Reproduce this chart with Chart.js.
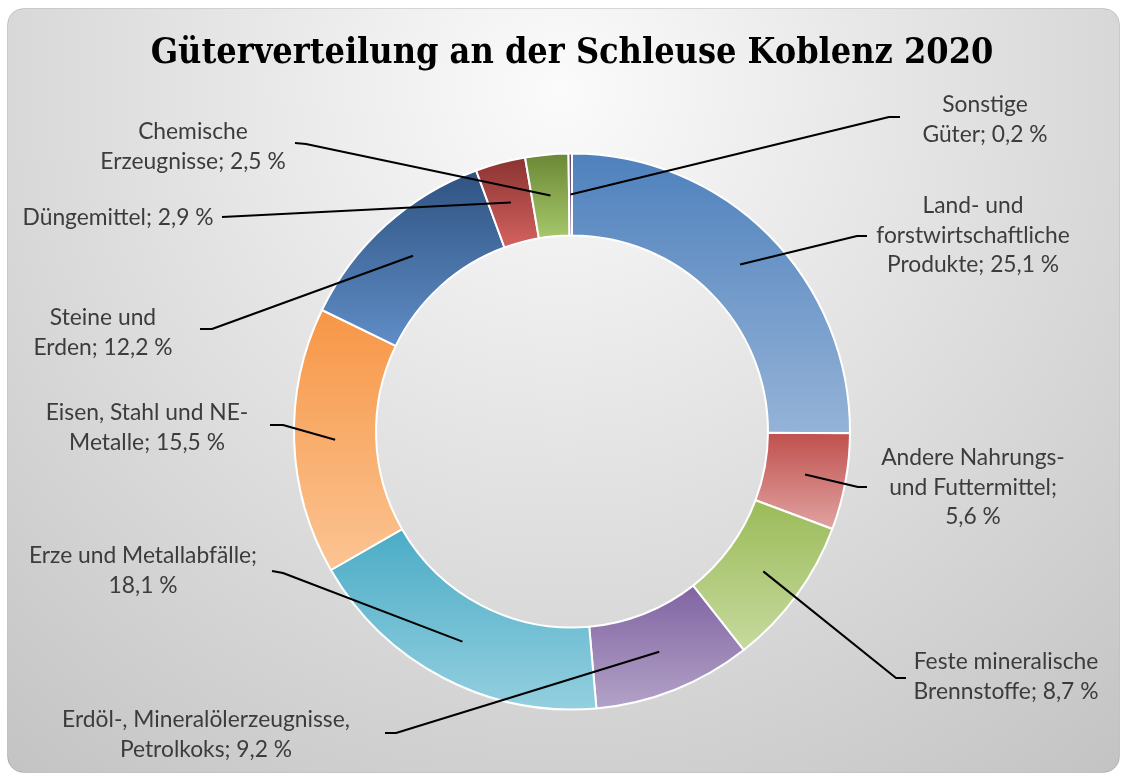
<!DOCTYPE html>
<html lang="de">
<head>
<meta charset="utf-8">
<title>Güterverteilung an der Schleuse Koblenz 2020</title>
<script src="https://cdn.jsdelivr.net/npm/chart.js@4.4.1/dist/chart.umd.min.js"></script>
<style>
  html, body { margin: 0; padding: 0; background: #fff; }
  #wrap { width: 1123px; height: 776px; }
</style>
</head>
<body>
<div id="wrap"><canvas id="chart" width="1123" height="776"></canvas></div>
<script>
(() => {
  // Daten
  const TITLE = 'Güterverteilung an der Schleuse Koblenz 2020';
  const categories = [
    'Land- und forstwirtschaftliche Produkte',
    'Andere Nahrungs- und Futtermittel',
    'Feste mineralische Brennstoffe',
    'Erdöl-, Mineralölerzeugnisse, Petrolkoks',
    'Erze und Metallabfälle',
    'Eisen, Stahl und NE-Metalle',
    'Steine und Erden',
    'Düngemittel',
    'Chemische Erzeugnisse',
    'Sonstige Güter'
  ];
  const shares = [25.1, 5.6, 8.7, 9.2, 18.1, 15.5, 12.2, 2.9, 2.5, 0.2];

  // Farben (oben dunkel -> unten hell, wie im Office-Verlauf)
  const topColors    = ['#4f81bd', '#c0504d', '#9bbb59', '#8064a2', '#4bacc6', '#f79646', '#2f5382', '#8a3331', '#6b8836', '#5f497a'];
  const bottomColors = ['#95b3d7', '#e0a3a1', '#c6da9e', '#b3a2c7', '#93cfdf', '#fbc493', '#5f8dc6', '#d4625f', '#a6c76a', '#8c76a8'];

  // Beschriftungen: Textmitte (x, y der ersten Zeile), Umbruchbreite, Knick und Ende der Führungslinie
  const labelPos = [
    { x: 973,  y: 206, w: 210, kx: 857, ky: 236, ex: 867, ey: 236 },
    { x: 973,  y: 458, w: 200, kx: 858, ky: 487, ex: 867, ey: 487 },
    { x: 1006, y: 662, w: 205, kx: 896, ky: 678, ex: 906, ey: 678 },
    { x: 206,  y: 720, w: 310, kx: 396, ky: 733, ex: 385, ey: 733 },
    { x: 143,  y: 556, w: 255, kx: 283, ky: 573, ex: 272, ey: 571 },
    { x: 147,  y: 413, w: 225, kx: 283, ky: 425, ex: 270, ey: 425 },
    { x: 103,  y: 318, w: 152, kx: 212, ky: 329, ex: 200, ey: 329 },
    { x: 118,  y: 218, w: 230, kx: null, ky: null, ex: 222, ey: 217 },
    { x: 193,  y: 132, w: 200, kx: 306, ky: 144, ex: 295, ey: 143 },
    { x: 985,  y: 105, w: 137, kx: 889, ky: 117, ex: 900, ey: 117 }
  ];
  const LINE_H = 29.5;
  const CUTOUT = 0.705;

  const fmt = v => v.toFixed(1).replace('.', ',') + '\u00a0%';
  const labelText = i => categories[i] + '; ' + fmt(shares[i]);

  // Schriftgrößen an die Breiten im Original anpassen
  const TITLE_FONT = '"DejaVu Serif Condensed", "DejaVu Serif", "Liberation Serif", serif';
  const m = document.createElement('canvas').getContext('2d');
  m.font = 'bold 40px ' + TITLE_FONT;
  const titleSize = 40 * 843 / m.measureText(TITLE).width;
  m.font = '22px Lato';
  const labelSize = 22 * 191 / m.measureText(labelText(7)).width;

  function wrap(ctx, text, maxW) {
    const tokens = text.split(/(?<=[ -])/);
    const lines = [];
    let line = '';
    tokens.forEach(t => {
      const test = line + t;
      if (ctx.measureText(test.trim()).width > maxW && line.trim()) {
        lines.push(line.trim());
        line = t;
      } else {
        line = test;
      }
    });
    if (line.trim()) lines.push(line.trim());
    return lines;
  }

  // Verlauf je Segment über dessen eigene Höhe
  function sliceFill(c) {
    const i = c.dataIndex;
    const area = c.chart.chartArea;
    if (i === undefined || !area) return topColors[i || 0];
    const total = shares.reduce((a, b) => a + b, 0);
    let before = 0;
    for (let k = 0; k < i; k++) before += shares[k];
    const a0 = before / total * Math.PI * 2 - Math.PI / 2;
    const a1 = (before + shares[i]) / total * Math.PI * 2 - Math.PI / 2;
    const cy = (area.top + area.bottom) / 2;
    const R = (Math.min(area.width, area.height) - 2) / 2;
    let y0 = Infinity, y1 = -Infinity;
    for (let s = 0; s <= 32; s++) {
      const a = a0 + (a1 - a0) * s / 32;
      [R * CUTOUT, R].forEach(r => {
        const y = cy + r * Math.sin(a);
        y0 = Math.min(y0, y); y1 = Math.max(y1, y);
      });
    }
    if (y1 - y0 < 1) y1 = y0 + 1;
    const g = c.chart.ctx.createLinearGradient(0, y0, 0, y1);
    g.addColorStop(0, topColors[i]);
    g.addColorStop(1, bottomColors[i]);
    return g;
  }

  function roundRect(ctx, x, y, w, h, r) {
    ctx.beginPath();
    ctx.moveTo(x + r, y);
    ctx.arcTo(x + w, y, x + w, y + h, r);
    ctx.arcTo(x + w, y + h, x, y + h, r);
    ctx.arcTo(x, y + h, x, y, r);
    ctx.arcTo(x, y, x + w, y, r);
    ctx.closePath();
  }

  const cardBackground = {
    id: 'cardBackground',
    beforeDraw(chart) {
      const ctx = chart.ctx;
      ctx.save();
      ctx.fillStyle = '#ffffff';
      ctx.fillRect(0, 0, chart.width, chart.height);
      const g = ctx.createRadialGradient(560, 90, 0, 560, 90, 900);
      g.addColorStop(0, '#fbfbfb');
      g.addColorStop(1, '#c2c2c2');
      roundRect(ctx, 7.5, 8.5, 1112, 764, 16);
      ctx.fillStyle = g;
      ctx.fill();
      ctx.strokeStyle = 'rgba(0,0,0,0.14)';
      ctx.lineWidth = 1;
      ctx.stroke();
      ctx.restore();
    }
  };

  const leaderLabels = {
    id: 'leaderLabels',
    afterDatasetsDraw(chart) {
      const ctx = chart.ctx;
      const arcs = chart.getDatasetMeta(0).data;
      ctx.save();
      ctx.font = labelSize + 'px Lato';
      ctx.textAlign = 'center';
      ctx.textBaseline = 'middle';
      ctx.lineJoin = 'round';
      arcs.forEach((arc, i) => {
        const pos = labelPos[i];
        const p = arc.getCenterPoint();
        ctx.beginPath();
        ctx.moveTo(p.x, p.y);
        if (pos.kx != null) ctx.lineTo(pos.kx, pos.ky);
        ctx.lineTo(pos.ex, pos.ey);
        ctx.strokeStyle = '#000';
        ctx.lineWidth = 2.1;
        ctx.stroke();
        ctx.fillStyle = '#3c3c3c';
        wrap(ctx, labelText(i), pos.w).forEach((ln, j) => {
          ctx.fillText(ln, pos.x, pos.y + j * LINE_H);
        });
      });
      ctx.restore();
    }
  };

  const titleMid = 54;
  const areaTop = 152.5;

  new Chart(document.getElementById('chart'), {
    type: 'doughnut',
    data: {
      labels: categories,
      datasets: [{
        data: shares,
        backgroundColor: sliceFill,
        borderColor: '#ffffff',
        borderWidth: 2
      }]
    },
    options: {
      responsive: false,
      animation: false,
      events: [],
      cutout: (CUTOUT * 100) + '%',
      layout: { padding: { left: 21, right: 0, top: 0, bottom: 65.5 } },
      plugins: {
        legend: { display: false },
        tooltip: { enabled: false },
        title: {
          display: true,
          text: TITLE,
          color: '#000000',
          font: { family: TITLE_FONT, size: titleSize, weight: 'bold', lineHeight: 1.2 },
          padding: { top: titleMid - 0.6 * titleSize, bottom: areaTop - titleMid - 0.6 * titleSize }
        }
      }
    },
    plugins: [cardBackground, leaderLabels]
  });
})();
</script>
</body>
</html>
